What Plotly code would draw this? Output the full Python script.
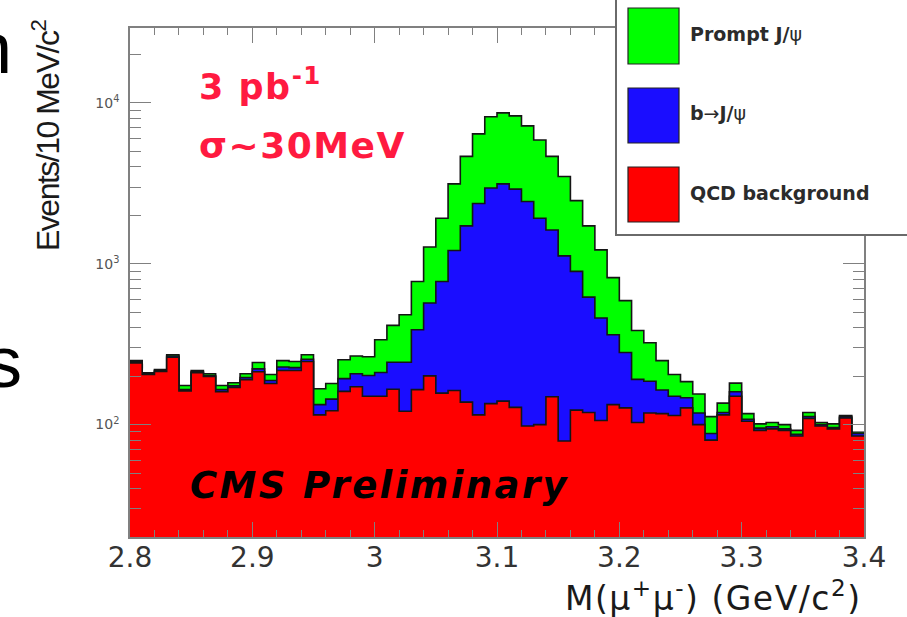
import numpy as np
import plotly.graph_objects as go

# ---------------- data (events per 10 MeV bin, 2.80 - 3.40 GeV) ----------------
bin_low = 2.80
bin_width = 0.01

qcd_background = [242, 205, 214, 262, 162, 210, 199, 160, 170, 190,
                  213, 180, 217, 217, 247, 115, 122, 161, 172, 150,
                  150, 166, 121, 165, 201, 157, 163, 138, 115, 135,
                  140, 128, 98, 100, 149, 79, 123, 119, 106, 133,
                  127, 103, 118, 117, 114, 127, 100, 80, 115, 150,
                  105, 92, 94, 92, 85, 109, 98, 94, 110, 85]
b_to_jpsi = [4, 2, 3, 5, 3, 3, 3, 5, 4, 6,
             9, 8, 11, 9, 8, 18, 22, 32, 35, 52,
             61, 78, 123, 224, 369, 618, 1047, 1582, 2255, 2825,
             3000, 2782, 2342, 1820, 1471, 1041, 774, 501, 354, 229,
             154, 88, 68, 47, 36, 20, 18, 8, 4, 10,
             3, 3, 3, 2, 2, 3, 2, 2, 2, 3]
prompt_jpsi = [4, 3, 3, 5, 10, 4, 5, 10, 8, 11,
               21, 17, 22, 21, 17, 34, 36, 60, 60, 62,
               126, 170, 238, 386, 700, 1145, 1930, 2930, 4050, 5240,
               5540, 5400, 4760, 3960, 3030, 2370, 1573, 1100, 760, 458,
               309, 194, 137, 86, 55, 38, 37, 24, 17, 21,
               9, 6, 6, 6, 5, 7, 3, 5, 2, 2]

x_tick_vals = [2.8, 2.9, 3.0, 3.1, 3.2, 3.3, 3.4]
x_tick_text = ["2.8", "2.9", "3", "3.1", "3.2", "3.3", "3.4"]
y_tick_vals = [100, 1000, 10000]
y_tick_text = ["10<sup>2</sup>", "10<sup>3</sup>", "10<sup>4</sup>"]
y_minor_vals = [20, 30, 40, 50, 60, 70, 80, 90,
                200, 300, 400, 500, 600, 700, 800, 900,
                2000, 3000, 4000, 5000, 6000, 7000, 8000, 9000, 20000]

legend_labels = ["<b>Prompt J/</b>ψ", "<b>b</b>→<b>J/</b>ψ", "<b>QCD background</b>"]

# ---------------- build stacked levels ----------------
qcd = np.array(qcd_background, dtype=float)
bj = np.array(b_to_jpsi, dtype=float)
pj = np.array(prompt_jpsi, dtype=float)
lvl_red = qcd
lvl_blue = qcd + bj
lvl_green = qcd + bj + pj

n = len(qcd)
edges = bin_low + bin_width * np.arange(n + 1)

def step_y(v):
    return np.append(v, v[-1])

GREEN = "#00ff00"
BLUE = "#1a0dff"
RED = "#ff0000"
OUT = "#151515"

fig = go.Figure()
for lvl, col in [(lvl_green, GREEN), (lvl_blue, BLUE), (lvl_red, RED)]:
    fig.add_trace(go.Scatter(
        x=edges, y=step_y(lvl), mode="lines", line_shape="hv",
        line=dict(color=OUT, width=1.6), fill="tozeroy", fillcolor=col,
        showlegend=False, hoverinfo="skip"))

# ---------------- geometry helpers (pixel -> paper) ----------------
W, H = 907, 617
L, R, T, B = 130, 864, 28, 537

def px(x):
    return (x - L) / (R - L)

def py(y):
    return (B - y) / (B - T)

FRAME = "#808080"

fig.update_layout(
    width=W, height=H,
    margin=dict(l=L, r=W - R, t=T, b=H - B),
    paper_bgcolor="white", plot_bgcolor="white",
    showlegend=False,
    xaxis=dict(range=[2.8, 3.4], tickvals=x_tick_vals, ticktext=x_tick_text,
               ticks="inside", ticklen=15, tickwidth=1.2, tickcolor=FRAME,
               showline=True, linecolor=FRAME, linewidth=1.6, mirror="ticks",
               showgrid=False, zeroline=False, ticklabelstandoff=-5,
               tickfont=dict(family="DejaVu Sans", size=28, color="#333333"),
               minor=dict(dtick=0.02, tick0=2.8, ticks="inside", ticklen=7,
                          tickcolor=FRAME, tickwidth=1.2, showgrid=False)),
    yaxis=dict(type="log", range=[np.log10(20), np.log10(29240)],
               tickvals=y_tick_vals, ticktext=y_tick_text,
               ticks="inside", ticklen=21, tickwidth=1.2, tickcolor=FRAME,
               showline=True, linecolor=FRAME, linewidth=1.6, mirror="ticks",
               showgrid=False, zeroline=False, ticklabelstandoff=6,
               tickfont=dict(family="DejaVu Sans", size=14, color="#555555"),
               minor=dict(tickmode="array", tickvals=y_minor_vals, ticks="inside",
                          ticklen=11, tickcolor=FRAME, tickwidth=1.2, showgrid=False)),
)

shapes = []
# legend frame
shapes.append(dict(type="rect", xref="paper", yref="paper",
                   x0=px(616), x1=px(915), y0=py(235), y1=py(-5),
                   line=dict(color="#6a6a6a", width=2), fillcolor="white", layer="above"))
box_rows = [(8, 64, GREEN), (88, 143, BLUE), (167, 222, RED)]
for (y0, y1, col) in box_rows:
    shapes.append(dict(type="rect", xref="paper", yref="paper",
                       x0=px(628), x1=px(679), y0=py(y1), y1=py(y0),
                       line=dict(color="#222222", width=1.2), fillcolor=col, layer="above"))
fig.update_layout(shapes=shapes)

ann = []
for (y0, y1, _), lab in zip(box_rows, legend_labels):
    ann.append(dict(xref="paper", yref="paper", x=px(688), y=py((y0 + y1) / 2 - 2),
                    xanchor="left", yanchor="middle", showarrow=False, text=lab,
                    font=dict(family="DejaVu Sans", size=19, color="#2b2b2b")))

TXT_RED = "#ff1a40"
ann.append(dict(xref="paper", yref="paper", x=px(197), y=py(84), xanchor="left", yanchor="middle",
                showarrow=False, text="<span style='letter-spacing:1.5px'><b>3 pb<sup>-1</sup></b></span>",
                font=dict(family="DejaVu Sans", size=35, color=TXT_RED)))
ann.append(dict(xref="paper", yref="paper", x=px(197), y=py(145), xanchor="left", yanchor="middle",
                showarrow=False, text="<span style='letter-spacing:1.5px'><b>σ~30MeV</b></span>",
                font=dict(family="DejaVu Sans", size=36, color=TXT_RED)))
ann.append(dict(xref="paper", yref="paper", x=px(188), y=py(485), xanchor="left", yanchor="middle",
                showarrow=False,
                text="<span style='letter-spacing:2.4px'><b><i>CMS Preliminary</i></b></span>",
                font=dict(family="DejaVu Sans", size=37, color="#000000")))
# axis titles
ann.append(dict(xref="paper", yref="paper", x=px(46), y=py(136), xanchor="center", yanchor="middle",
                showarrow=False, textangle=-90,
                text="<span style='letter-spacing:-1.5px'>Events/10 MeV/c<sup>2</sup></span>",
                font=dict(family="Liberation Sans", size=32, color="#1a1a1a")))
ann.append(dict(xref="paper", yref="paper", x=px(864), y=py(596), xanchor="right", yanchor="middle",
                showarrow=False,
                text="<span style='letter-spacing:1.5px'>M(μ<sup>+</sup>μ<sup>-</sup>) (GeV/c<sup>2</sup>)</span>",
                font=dict(family="DejaVu Sans", size=33, color="#1a1a1a")))
# slide text remnants at the left edge
ann.append(dict(xref="paper", yref="paper", x=px(14), y=py(48), xanchor="right", yanchor="middle",
                showarrow=False, text="n", font=dict(family="Liberation Sans", size=72, color="#000000")))
ann.append(dict(xref="paper", yref="paper", x=px(24), y=py(362), xanchor="right", yanchor="middle",
                showarrow=False, text="s", font=dict(family="Liberation Sans", size=72, color="#000000")))
fig.update_layout(annotations=ann)

fig.write_html("out.html", config={"displayModeBar": False},
               post_script="document.body.style.margin='0';document.body.style.padding='0';")
